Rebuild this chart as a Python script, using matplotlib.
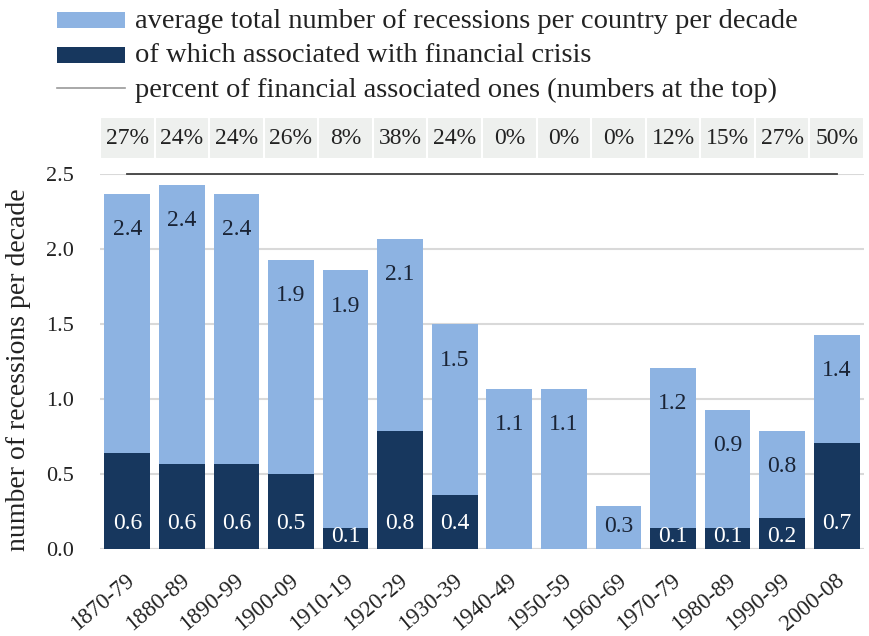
import matplotlib
matplotlib.use("Agg")
import matplotlib.pyplot as plt
from matplotlib.patches import Rectangle
from matplotlib.lines import Line2D
import matplotlib.transforms as mtransforms

decades = ["1870-79", "1880-89", "1890-99", "1900-09", "1910-19", "1920-29", "1930-39",
           "1940-49", "1950-59", "1960-69", "1970-79", "1980-89", "1990-99", "2000-08"]
total = [2.37, 2.43, 2.37, 1.93, 1.86, 2.07, 1.50, 1.07, 1.07, 0.29, 1.21, 0.93, 0.79, 1.43]
financial = [0.64, 0.57, 0.57, 0.50, 0.14, 0.79, 0.36, 0.0, 0.0, 0.0, 0.14, 0.14, 0.21, 0.71]
total_labels = ["2.4", "2.4", "2.4", "1.9", "1.9", "2.1", "1.5", "1.1", "1.1", "0.3", "1.2", "0.9", "0.8", "1.4"]
fin_labels = ["0.6", "0.6", "0.6", "0.5", "0.1", "0.8", "0.4", "", "", "", "0.1", "0.1", "0.2", "0.7"]
percent = ["27%", "24%", "24%", "26%", "8%", "38%", "24%", "0%", "0%", "0%", "12%", "15%", "27%", "50%"]
yticks = [0.0, 0.5, 1.0, 1.5, 2.0, 2.5]

LIGHT = "#8db3e2"
DARK = "#17375e"
TXT = "#222222"
FONT = "Liberation Serif"
plt.rcParams["font.family"] = [FONT, "DejaVu Serif"]

W, H = 870, 636
fig = plt.figure(figsize=(W / 100, H / 100), dpi=100)

def fx(px):
    return px / W

def fy(py):
    return 1 - py / H

ax_left, ax_right, ax_top, ax_bottom = 100, 864, 174, 549
ax = fig.add_axes([fx(ax_left), fy(ax_bottom), fx(ax_right - ax_left), fy(ax_top) - fy(ax_bottom)])

x = list(range(len(decades)))
bw = 0.84
ax.bar(x, total, width=bw, color=LIGHT, zorder=2)
ax.bar(x, financial, width=bw, color=DARK, zorder=3)

ax.set_xlim(-0.5, len(decades) - 0.5)
ax.set_ylim(0, 2.5)
ax.set_yticks(yticks)
ax.set_yticklabels([f"{v:.1f}" for v in yticks], fontsize=16, color=TXT)
ax.set_xticks(x)
ax.set_xticklabels(decades, rotation=40, ha="right", va="center", rotation_mode="anchor",
                   fontsize=16.5, color=TXT)
ax.tick_params(length=0)
ax.tick_params(axis="y", pad=19)
ax.tick_params(axis="x", pad=21)
offset = mtransforms.ScaledTranslation(5 / 100, 0, fig.dpi_scale_trans)
for lab in ax.get_xticklabels():
    lab.set_transform(lab.get_transform() + offset)
for sp in ax.spines.values():
    sp.set_visible(False)
ax.yaxis.grid(True, color="#d9d9d9", linewidth=1.5, zorder=0)
ax.set_axisbelow(True)
ax.axhline(0, color="#d9d9d9", linewidth=1.5, zorder=1)
fig.text(fx(19), fy(370), "number of recessions per decade", rotation=90, ha="center", va="center",
         fontsize=20, color=TXT)

# percent line (flat line at top)
ax.plot([x[0], x[-1]], [2.5, 2.5], color="#404040", linewidth=1.3, zorder=4, clip_on=False)

# value labels
for i in x:
    if total_labels[i]:
        yy = total[i] - 0.24 if total[i] > 0.6 else 0.15
        ax.text(i, yy, total_labels[i], ha="center", va="center",
                fontsize=17, color="#1a2436", zorder=5)
    if fin_labels[i]:
        yy = 0.17 if financial[i] > 0.3 else 0.08
        ax.text(i, yy, fin_labels[i], ha="center", va="center",
                fontsize=17, color="white", zorder=5)

# percent table above plot
trans = mtransforms.blended_transform_factory(ax.transData, fig.transFigure)
cell_bot, cell_top = fy(159), fy(117)
for i in x:
    r = Rectangle((i - 0.5, cell_bot), 1.0, cell_top - cell_bot, transform=trans,
                  facecolor="#eef0ee", edgecolor="white", linewidth=1.5, clip_on=False)
    fig.add_artist(r)
    fig.text(i, (cell_bot + cell_top) / 2, percent[i], transform=trans, ha="center", va="center",
             fontsize=17, color=TXT)

# legend
fig.add_artist(Rectangle((fx(57), fy(28)), fx(68), fy(12) - fy(28), facecolor=LIGHT,
                         edgecolor="none", transform=fig.transFigure))
fig.add_artist(Rectangle((fx(57), fy(63)), fx(68), fy(47) - fy(63), facecolor=DARK,
                         edgecolor="none", transform=fig.transFigure))
fig.add_artist(Line2D([fx(57), fx(125)], [fy(88), fy(88)], color="#9a9a9a", linewidth=1.2,
                      transform=fig.transFigure))
leg_texts = ["average total number of recessions per country per decade",
             "of which associated with financial crisis",
             "percent of financial associated ones (numbers at the top)"]
for t, yy in zip(leg_texts, [21, 56, 90]):
    fig.text(fx(135), fy(yy), t, ha="left", va="center", fontsize=20.5, color=TXT)

fig.savefig("out.png", dpi=100, facecolor="white")
